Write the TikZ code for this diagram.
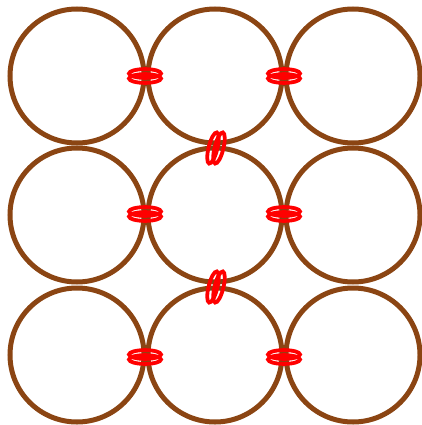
\documentclass[tikz,border=0pt]{standalone}
\begin{document}
\begin{tikzpicture}[x=1pt,y=-1pt]
\definecolor{ringbrown}{RGB}{139,69,19}
\tikzset{
  ringc/.style={circle,draw=ringbrown,line width=5pt,minimum size=134pt,inner sep=0pt},
  link/.style={draw=red,line width=3.8pt}}
\useasboundingbox (0,0) rectangle (421,425);
\foreach \i/\x in {1/77,2/215,3/353}{
  \foreach \j/\y in {1/76,2/215,3/355}{
    \node[ringc] (c\i\j) at (\x,\y) {};
  }
}
% horizontal links
\foreach \x/\y in {145/76,284/76,145/214,284/214,145/357,284/357}{
  \foreach \d in {-2.5,2.5}{
    \draw[link] (\x,\y+\d) ellipse [x radius=16pt,y radius=4.4pt];
  }
}
% vertical links
\foreach \x/\y in {216/148,216/287}{
  \foreach \d in {-3,3}{
    \draw[link,rotate around={-14:(\x+\d,\y)}] (\x+\d,\y) ellipse [x radius=4.4pt,y radius=16pt];
  }
}
\end{tikzpicture}
\end{document}
